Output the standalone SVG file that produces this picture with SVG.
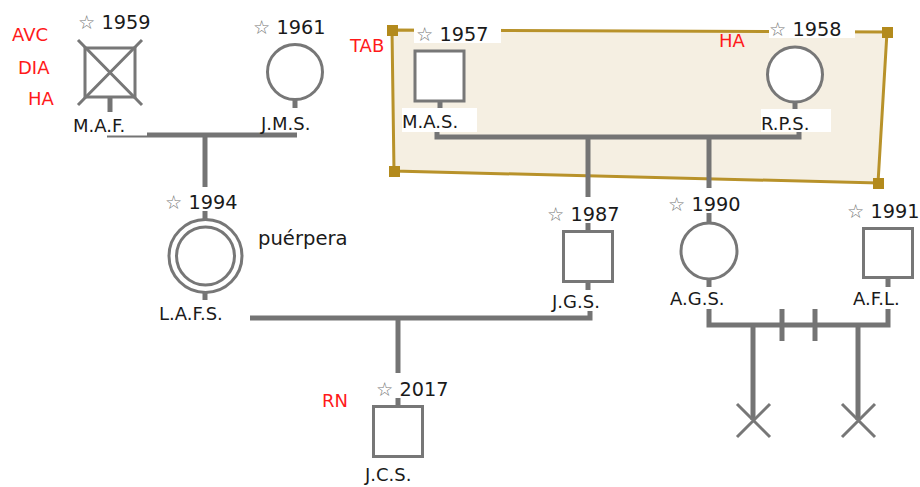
<svg xmlns="http://www.w3.org/2000/svg" width="920" height="487" viewBox="0 0 920 487">
<style>
text{font-family:"DejaVu Sans","Liberation Sans",sans-serif;fill:#1a1a1a}
.yr{font-size:19.3px}
.lb{font-size:18px}
.red{font-size:18px;fill:#ff1a1a}
.st{fill:#777}
.shape{fill:#fff;stroke:#777;stroke-width:3}
.ln{fill:none;stroke:#747474;stroke-width:5}
.thin{fill:none;stroke:#777;stroke-width:3}
.bg{fill:#fff}
.h{fill:#b38a1c}
</style>
<rect width="920" height="487" fill="#fff"/>
<g id="group-box">
<polygon points="392,30 887,32 878,183 394,171" fill="#f5efe2" stroke="#b8922a" stroke-width="3"/>
<rect class="h" x="387" y="25" width="11" height="11"/>
<rect class="h" x="882" y="27" width="11" height="11"/>
<rect class="h" x="873" y="178" width="11" height="11"/>
<rect class="h" x="389" y="166" width="11" height="11"/>
<text class="red" x="350" y="52">TAB</text>
<text class="red" x="719" y="47">HA</text>
</g>
<g id="connectors">
<line class="ln" x1="107" y1="135" x2="297" y2="135"/>
<line class="ln" x1="205" y1="135" x2="205" y2="187"/>
<path class="ln" d="M437 132 V137 H799 V132"/>
<line class="ln" x1="588" y1="137" x2="588" y2="197"/>
<line class="ln" x1="709" y1="137" x2="709" y2="188"/>
<path class="ln" d="M250 318 H590 V311"/>
<line class="ln" x1="398" y1="318" x2="398" y2="373"/>
<path class="ln" d="M709 309 V325 H888 V309"/>
<line class="ln" x1="782" y1="309" x2="782" y2="341"/>
<line class="ln" x1="815" y1="309" x2="815" y2="341"/>
<line class="ln" x1="753" y1="325" x2="753" y2="420"/>
<line class="ln" x1="858" y1="325" x2="858" y2="420"/>
<path class="thin" d="M737 404 L770 437 M770 404 L737 437"/>
<path class="thin" d="M842 404 L875 437 M875 404 L842 437"/>
</g>
<g id="node-MAF">
<line class="ln" x1="110" y1="96" x2="110" y2="112"/>
<rect class="shape" x="85" y="48" width="50" height="49"/>
<path class="thin" d="M78 40 L142 105 M142 40 L78 105"/>
<text class="yr" x="78" y="29"><tspan class="st">☆</tspan> 1959</text>
<rect class="bg" x="70" y="112" width="77" height="23.5"/>
<text class="lb" x="73" y="132">M.A.F.</text>
<text class="red" x="12" y="41">AVC</text>
<text class="red" x="18" y="74">DIA</text>
<text class="red" x="28" y="105">HA</text>
</g>
<g id="node-JMS">
<line class="ln" x1="295" y1="98" x2="295" y2="108"/>
<circle class="shape" cx="295" cy="72" r="27.5"/>
<text class="yr" x="253" y="34"><tspan class="st">☆</tspan> 1961</text>
<text class="lb" x="261" y="130">J.M.S.</text>
</g>
<g id="node-MAS">
<line class="ln" x1="440" y1="100" x2="440" y2="108"/>
<rect class="bg" x="414" y="28" width="87" height="15"/>
<text class="yr" x="416" y="41"><tspan class="st">☆</tspan> 1957</text>
<rect class="shape" x="415" y="51" width="49" height="50"/>
<rect class="bg" x="402" y="108" width="75" height="24"/>
<text class="lb" x="402" y="128">M.A.S.</text>
</g>
<g id="node-RPS">
<line class="ln" x1="795" y1="100" x2="795" y2="109"/>
<rect class="bg" x="769" y="21" width="86" height="17"/>
<text class="yr" x="769" y="36"><tspan class="st">☆</tspan> 1958</text>
<circle class="shape" cx="795" cy="74.5" r="27.5"/>
<rect class="bg" x="761" y="109" width="70" height="23"/>
<text class="lb" x="761" y="130">R.P.S.</text>
</g>
<g id="node-LAFS">
<line class="ln" x1="205" y1="211" x2="205" y2="220"/>
<line class="ln" x1="205" y1="292" x2="205" y2="300"/>
<text class="yr" x="165" y="209"><tspan class="st">☆</tspan> 1994</text>
<circle class="shape" cx="205.5" cy="256" r="36.5"/>
<circle class="shape" cx="205.5" cy="256" r="29"/>
<text class="lb" x="159" y="320">L.A.F.S.</text>
<text class="yr" x="258" y="245" style="font-size:19.6px">puérpera</text>
</g>
<g id="node-JGS">
<line class="ln" x1="588" y1="223" x2="588" y2="232"/>
<line class="ln" x1="588" y1="281" x2="588" y2="290"/>
<text class="yr" x="547" y="221"><tspan class="st">☆</tspan> 1987</text>
<rect class="shape" x="563.5" y="231.5" width="49" height="50"/>
<text class="lb" x="552" y="308">J.G.S.</text>
</g>
<g id="node-AGS">
<line class="ln" x1="709" y1="213" x2="709" y2="223"/>
<line class="ln" x1="709" y1="278" x2="709" y2="287"/>
<text class="yr" x="668" y="211"><tspan class="st">☆</tspan> 1990</text>
<circle class="shape" cx="709" cy="251" r="28"/>
<text class="lb" x="670" y="305">A.G.S.</text>
</g>
<g id="node-AFL">
<line class="ln" x1="888" y1="277" x2="888" y2="287"/>
<text class="yr" x="847" y="218"><tspan class="st">☆</tspan> 1991</text>
<rect class="shape" x="863.5" y="228.5" width="49" height="49"/>
<text class="lb" x="853" y="305">A.F.L.</text>
</g>
<g id="node-JCS">
<line class="ln" x1="398" y1="398" x2="398" y2="407"/>
<text class="yr" x="376" y="396"><tspan class="st">☆</tspan> 2017</text>
<rect class="shape" x="373.5" y="406.5" width="49" height="50"/>
<text class="lb" x="365" y="481">J.C.S.</text>
<text class="red" x="322" y="407">RN</text>
</g>
</svg>
